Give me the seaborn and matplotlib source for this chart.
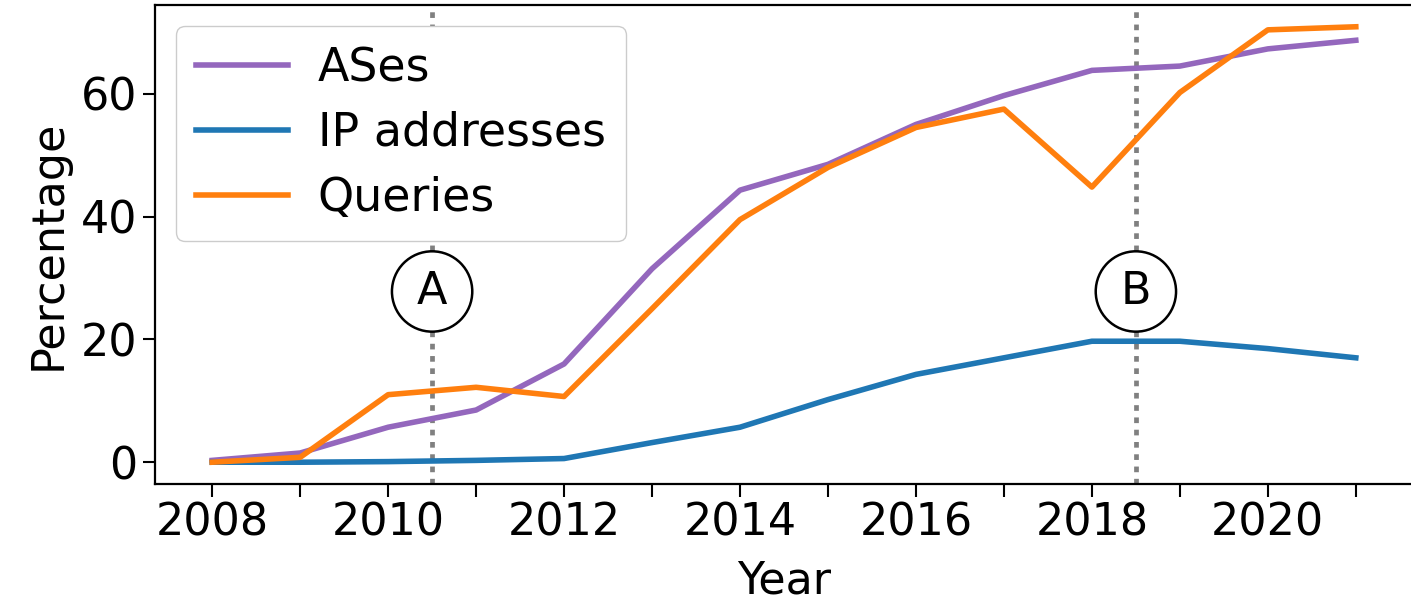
import numpy as np
import pandas as pd
import matplotlib
matplotlib.use("Agg")
import matplotlib.pyplot as plt
import seaborn as sns
from matplotlib.ticker import MultipleLocator, FuncFormatter

# Données
years = list(range(2008, 2022))
ases = [0.3, 1.5, 5.7, 8.5, 16.0, 31.5, 44.3, 48.5, 55.0, 59.7, 63.8, 64.5, 67.3, 68.7]
ip_addresses = [0.0, 0.0, 0.1, 0.3, 0.6, 3.2, 5.7, 10.2, 14.3, 17.0, 19.7, 19.7, 18.5, 17.0]
queries = [0.0, 0.8, 11.0, 12.2, 10.7, 25.0, 39.5, 48.0, 54.5, 57.5, 44.8, 60.2, 70.4, 70.9]

series_names = ["ASes", "IP addresses", "Queries"]
series_colors = ["#9467bd", "#1f77b4", "#ff7f0e"]

events_x = [2010.5, 2018.5]
events_lbl = ["A", "B"]
event_y = 27.8

df = pd.DataFrame({
    "Year": years * 3,
    "Percentage": ases + ip_addresses + queries,
    "serie": [series_names[0]] * len(years) + [series_names[1]] * len(years)
             + [series_names[2]] * len(years),
})

plt.rcParams["font.family"] = ["DejaVu Sans"]
plt.rcParams["font.size"] = 32

fig = plt.figure(figsize=(14.11, 6.02), dpi=100)
ax = fig.add_axes([155 / 1411, 118 / 602, (1413 - 155) / 1411, 479 / 602])

# Lignes verticales des événements
for x in events_x:
    ax.axvline(x, color="gray", linestyle=(0, (1.2, 1.4)), linewidth=3.4, zorder=1)

sns.lineplot(data=df, x="Year", y="Percentage", hue="serie",
             palette=dict(zip(series_names, series_colors)),
             linewidth=4, ax=ax, zorder=2)

for x, lbl in zip(events_x, events_lbl):
    ax.text(x, event_y, lbl, ha="center", va="center", fontsize=32,
            bbox=dict(boxstyle="circle,pad=0.42", fc="white", ec="black", lw=1.8),
            zorder=3)

ax.set_yticks([0, 20, 40, 60])
ax.xaxis.set_major_locator(MultipleLocator(1))
ax.xaxis.set_major_formatter(FuncFormatter(lambda v, p: f"{int(v)}" if int(v) % 2 == 0 else ""))
ax.tick_params(axis="both", length=9, width=1.5, labelsize=32)
for s in ax.spines.values():
    s.set_linewidth(1.6)

ax.set_xlabel("Year", fontsize=32, labelpad=11)
ax.set_ylabel("Percentage", fontsize=32, labelpad=8)

leg = ax.legend(loc="upper left", fontsize=33, handlelength=2.0, framealpha=1,
                borderaxespad=0.45, labelspacing=0.43, handletextpad=0.65,
                borderpad=0.45)
leg.set_title(None)
for line in leg.get_lines():
    line.set_linewidth(4)

fig.savefig("out.png", dpi=100)
